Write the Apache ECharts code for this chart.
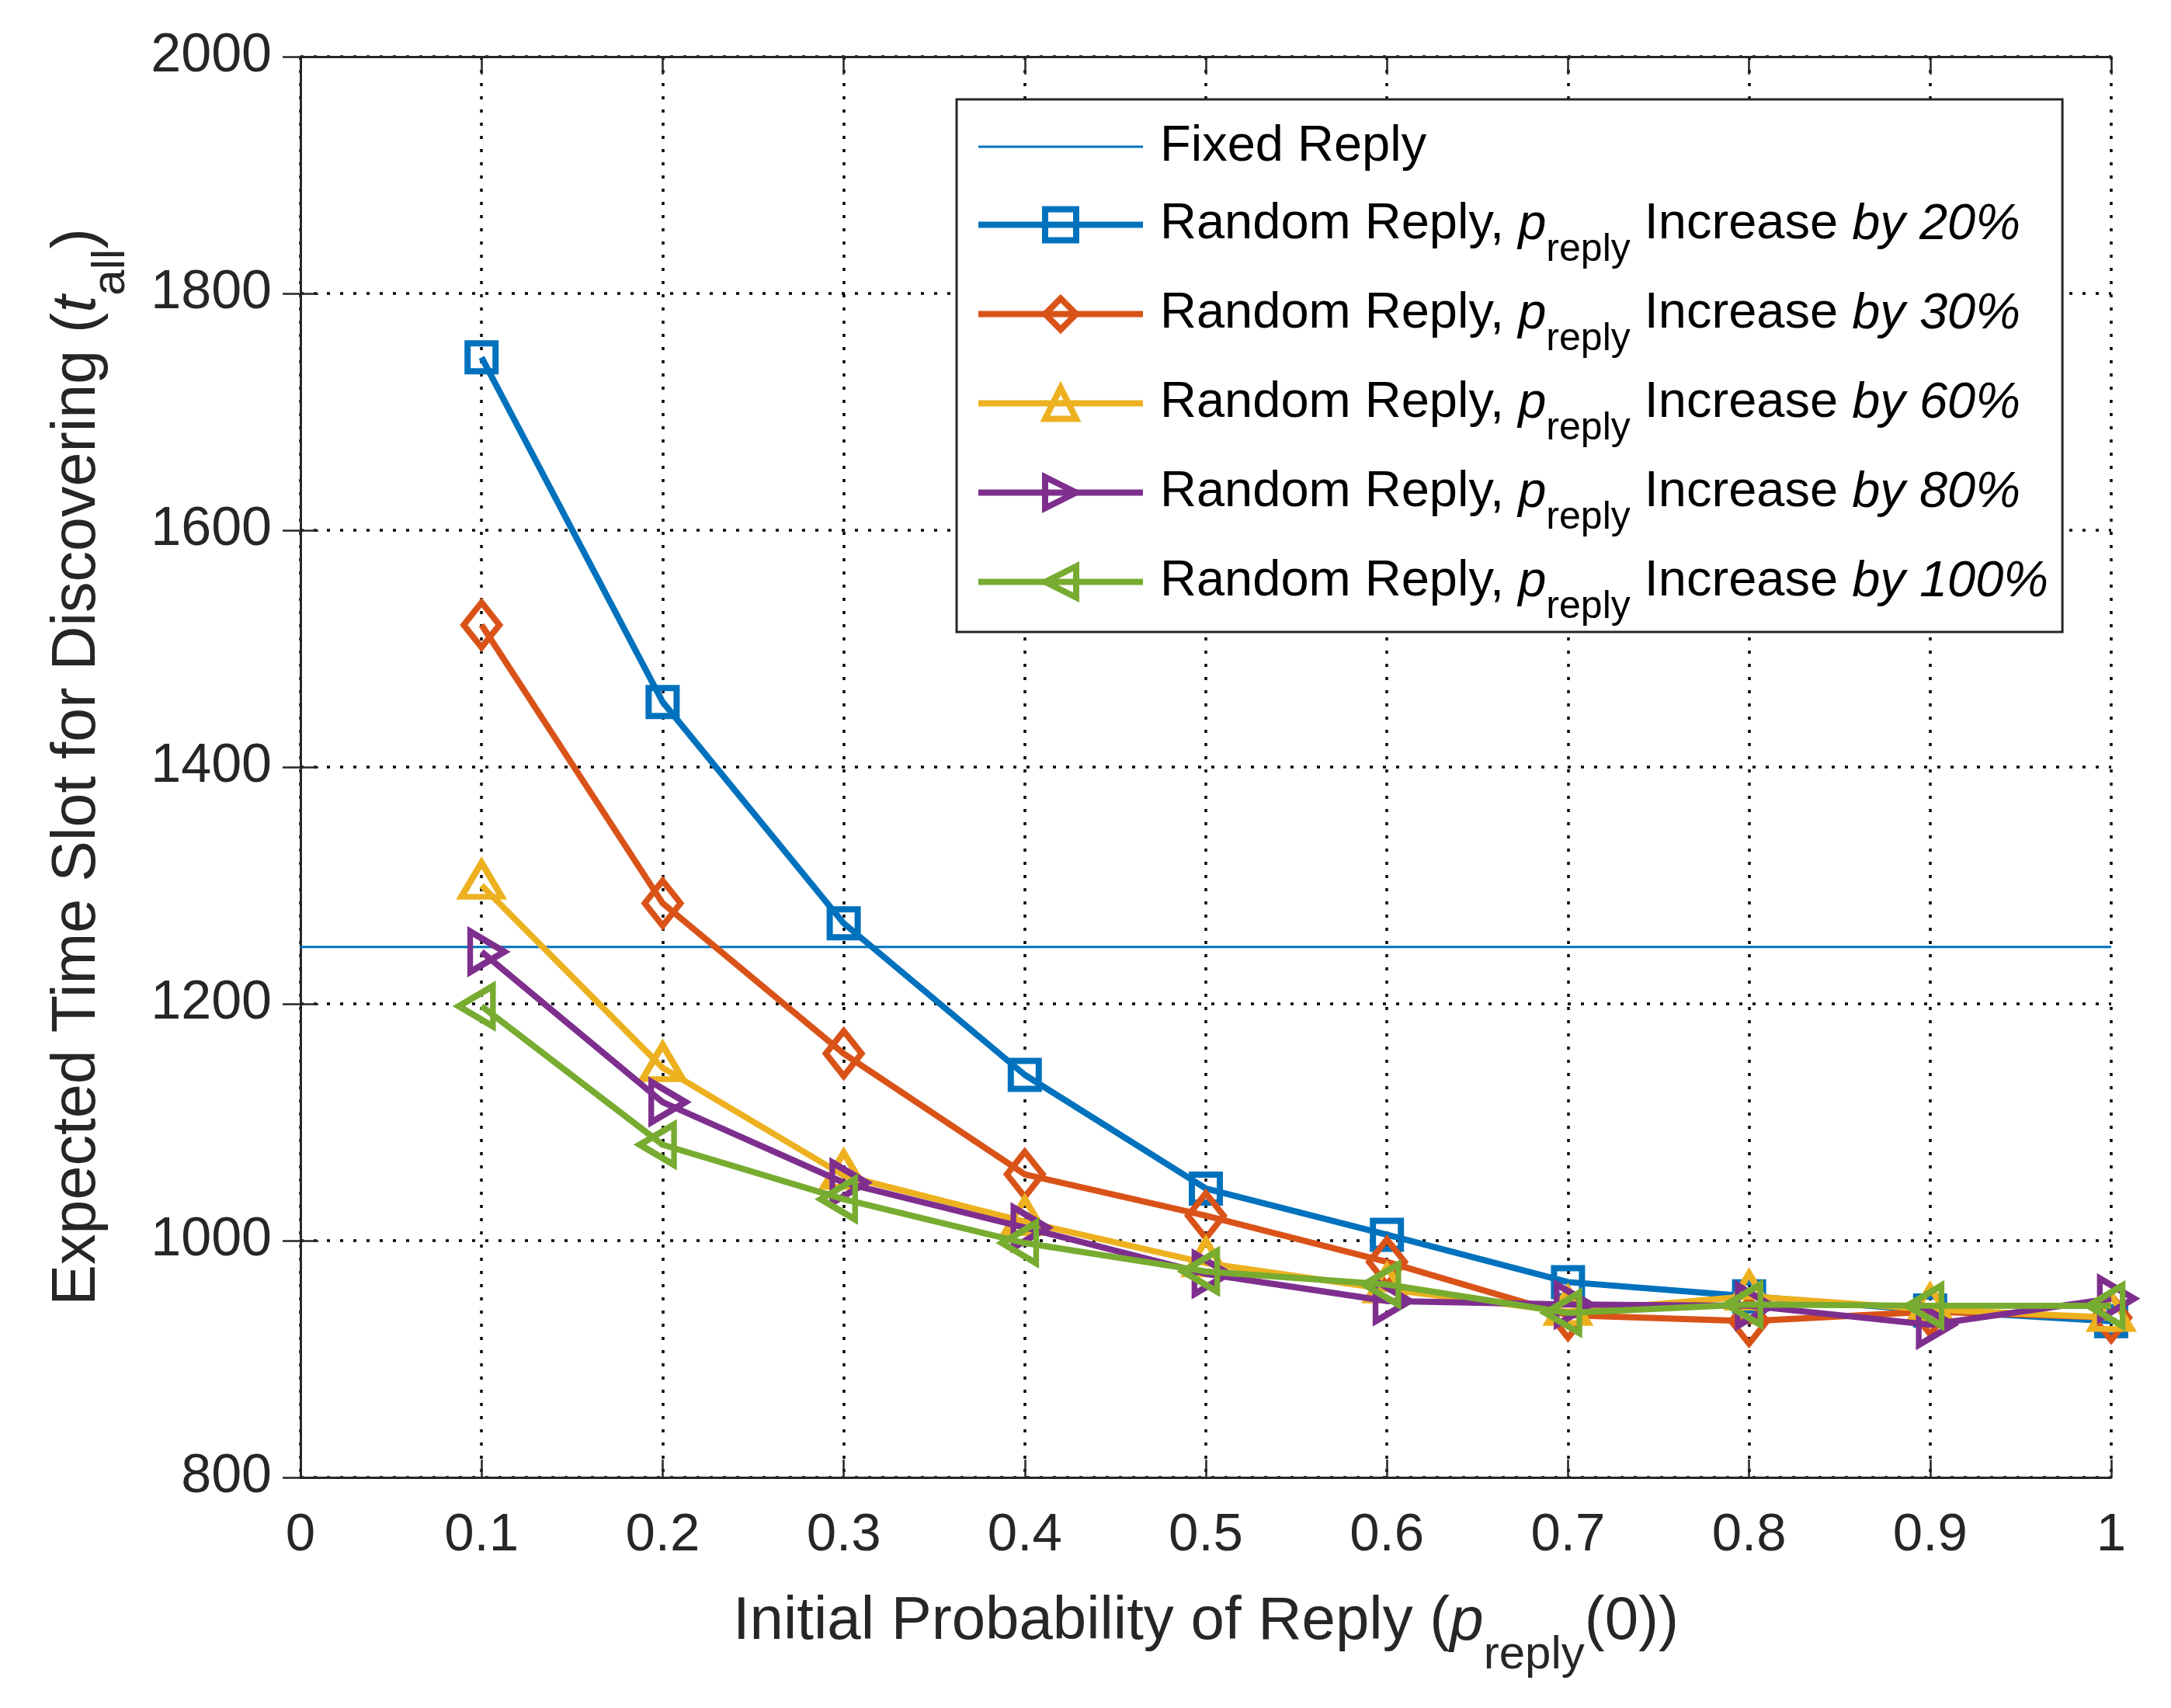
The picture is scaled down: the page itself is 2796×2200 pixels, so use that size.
<!DOCTYPE html>
<html><head><meta charset="utf-8">
<script src="https://cdn.jsdelivr.net/npm/echarts@6/dist/echarts.min.js"></script>
<style>html,body{margin:0;padding:0;background:#fff}#c{width:2796px;height:2200px}</style>
</head><body><div id="c"></div>
<script>
// ---- data ----
const xValues = [0.1, 0.2, 0.3, 0.4, 0.5, 0.6, 0.7, 0.8, 0.9, 1.0];
const fixedReply = 1248;
const fixedRange = [0, 1];
const inc20  = [1746, 1455, 1268, 1140, 1044, 1005, 965, 953, 941, 932];
const inc30  = [1520, 1285, 1158, 1056, 1021, 982, 937, 932, 940, 935];
const inc60  = [1300, 1146, 1055, 1016, 981, 959, 940, 953, 942, 935];
const inc80  = [1244, 1117, 1049, 1011, 972, 949, 946, 945, 929, 951];
const inc100 = [1198, 1081, 1035, 998, 974, 963, 939, 946, 945, 945];
const increaseLabels = ['by 20%', 'by 30%', 'by 60%', 'by 80%', 'by 100%'];
const fixedName = 'Fixed Reply';
const xTickRange = {min: 0, max: 1, interval: 0.1};
const yTickRange = {min: 800, max: 2000, interval: 200};

const FONT = '"Liberation Sans", Arial, Helvetica, sans-serif';
const TXT = '#262626';
const colors = ['#0072BD', '#D95319', '#EDB120', '#7E2F8E', '#77AC30'];
const LW = 8;
const TRI = [52, 44];
const triShift = TRI[1] / 6;
const markers = [
  {symbol: 'rect', size: 36, rotate: 0, offset: [0, 0]},
  {symbol: 'diamond', size: [46, 58], rotate: 0, offset: [0, 0]},
  {symbol: 'triangle', size: TRI, rotate: 0, offset: [0, -triShift]},
  {symbol: 'triangle', size: TRI, rotate: -90, offset: [triShift, 0]},
  {symbol: 'triangle', size: TRI, rotate: 90, offset: [-triShift, 0]}
];
const randomData = [inc20, inc30, inc60, inc80, inc100];
const randomNames = increaseLabels.map(l => 'Random Reply, p_reply Increase ' + l);

const series = [{
  name: fixedName, type: 'line',
  data: fixedRange.map(x => [x, fixedReply]),
  symbol: 'none', lineStyle: {color: colors[0], width: 3},
  itemStyle: {color: colors[0], borderWidth: 0},
  emphasis: {disabled: true}, silent: true, z: 2
}];
randomData.forEach((vals, i) => {
  series.push({
    name: randomNames[i], type: 'line',
    data: xValues.map((x, j) => [x, vals[j]]),
    symbol: markers[i].symbol, symbolSize: markers[i].size,
    symbolRotate: markers[i].rotate, symbolOffset: markers[i].offset,
    showSymbol: true, showAllSymbol: true,
    lineStyle: {color: colors[i], width: LW, join: 'round'},
    itemStyle: {color: 'transparent', borderColor: colors[i], borderWidth: LW},
    emphasis: {disabled: true}, silent: true, z: 3 + i
  });
});

const gridLine = {show: true, lineStyle: {color: '#000', width: 3.5, type: [4, 13]}};
const axisLineStyle = {show: true, lineStyle: {color: TXT, width: 3}};
const tickStyle = {show: true, inside: true, length: 23, lineStyle: {color: TXT, width: 2.5}};

const chart = echarts.init(document.getElementById('c'), null, {renderer: 'canvas'});
chart.setOption({
  animation: false,
  backgroundColor: '#fff',
  grid: {left: 387, right: 77, top: 73, bottom: 297, containLabel: false},
  xAxis: [{
    type: 'value', position: 'bottom', ...xTickRange,
    axisLine: axisLineStyle, axisTick: tickStyle, splitLine: gridLine,
    axisLabel: {color: TXT, fontSize: 69, fontFamily: FONT, margin: 40, formatter: v => String(v)},
    name: 'Initial Probability of Reply ({ip|p}{sub|reply}(0))',
    nameLocation: 'middle', nameGap: 108,
    nameTextStyle: {color: TXT, fontSize: 78, fontFamily: FONT, lineHeight: 94,
      rich: {
        ip: {fontStyle: 'italic', fontSize: 78, fontFamily: FONT, color: TXT, lineHeight: 94},
        sub: {fontSize: 60, fontFamily: FONT, color: TXT, lineHeight: 60, padding: [86, 0, 0, 0]}
      }}
  }, {
    type: 'value', position: 'top', ...xTickRange,
    axisLine: axisLineStyle, axisTick: tickStyle, splitLine: {show: false},
    axisLabel: {show: false}
  }],
  yAxis: [{
    type: 'value', position: 'left', ...yTickRange,
    axisLine: axisLineStyle, axisTick: tickStyle, splitLine: gridLine,
    axisLabel: {color: TXT, fontSize: 70, fontFamily: FONT, margin: 37, formatter: v => String(v)},
    name: 'Expected Time Slot for Discovering ({ip|t}{sub|all})',
    nameLocation: 'middle', nameGap: 240,
    nameTextStyle: {color: TXT, fontSize: 79, fontFamily: FONT, lineHeight: 94,
      rich: {
        ip: {fontStyle: 'italic', fontSize: 79, fontFamily: FONT, color: TXT, lineHeight: 94},
        sub: {fontSize: 60, fontFamily: FONT, color: TXT, lineHeight: 60, padding: [86, 0, 0, 0]}
      }}
  }, {
    type: 'value', position: 'right', ...yTickRange,
    axisLine: axisLineStyle, axisTick: tickStyle, splitLine: {show: false},
    axisLabel: {show: false}
  }],
  legend: {
    orient: 'vertical', left: 1232, top: 128,
    padding: [18, 18, 7, 24],
    itemWidth: 212, itemHeight: 50, itemGap: 0,
    backgroundColor: '#fff', borderColor: TXT, borderWidth: 3,
    selectedMode: false, symbolKeepAspect: false,
    lineStyle: {width: LW},
    itemStyle: {borderWidth: LW},
    textStyle: {fontFamily: FONT, fontSize: 65, color: '#000', lineHeight: 86, padding: [0, 0, 0, 17],
      rich: {
        ip: {fontStyle: 'italic', fontSize: 65, fontFamily: FONT, color: '#000', lineHeight: 86},
        it: {fontStyle: 'italic', fontSize: 65, fontFamily: FONT, color: '#000', lineHeight: 86},
        sub: {fontSize: 50, fontFamily: FONT, color: '#000', lineHeight: 50, padding: [65, 0, 0, 0]}
      }},
    formatter: function (name) {
      const i = randomNames.indexOf(name);
      if (i < 0) return name;
      return 'Random Reply, {ip|p}{sub|reply} Increase {it|' + increaseLabels[i] + '}';
    },
    data: [
      {name: fixedName, icon: 'path://M0,0L1,0M0,47L100,47L100,53L0,53ZM0,100L1,100',
       itemStyle: {borderWidth: 0, color: colors[0]}}
    ].concat(randomNames.map(n => ({name: n})))
  },
  series: series
});
</script></body></html>
